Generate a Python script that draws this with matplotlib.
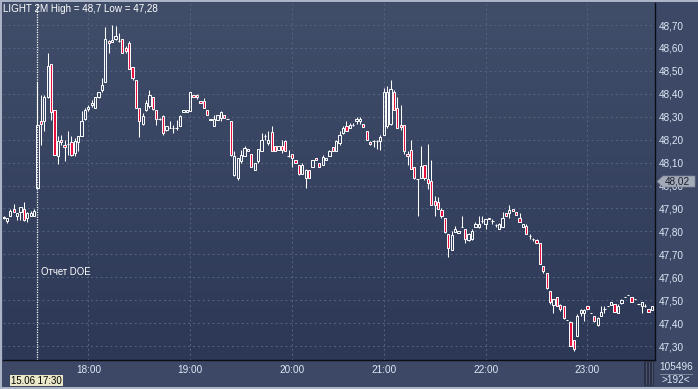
import matplotlib.pyplot as plt
import matplotlib.patches as mpatches
from matplotlib.collections import LineCollection
from matplotlib.colors import LinearSegmentedColormap
import numpy as np

# 2-minute candles, LIGHT (Brent-light), 17:10 .. 23:32
opens = [47.857, 47.845, 47.867, 47.896, 47.867, 47.886, 47.896, 47.857, 47.867, 47.867,
         47.988,
         48.280, 48.280, 48.386, 48.530, 48.328, 48.128, 48.197, 48.178, 48.183, 48.188,
         48.142, 48.188, 48.215, 48.290, 48.333, 48.352, 48.338, 48.386, 48.417, 48.451,
         48.630, 48.628, 48.638, 48.632, 48.638, 48.599, 48.620, 48.519, 48.458, 48.338,
         48.268, 48.328, 48.348, 48.388, 48.330, 48.290, 48.304, 48.241, 48.251, 48.251,
         48.251, 48.258, 48.322, 48.322, 48.323, 48.396, 48.396, 48.370, 48.370, 48.330,
         48.290,
         48.258, 48.284, 48.294, 48.309, 48.291, 48.283, 48.048, 48.033, 48.106, 48.128,
         48.152, 48.138, 48.067, 48.109, 48.149, 48.215, 48.186, 48.233, 48.171, 48.157,
         48.171, 48.193, 48.128, 48.139, 48.110, 48.091, 48.052, 48.031, 48.067, 48.081,
         48.120, 48.099, 48.091, 48.110, 48.128, 48.168, 48.152, 48.186, 48.229, 48.258,
         48.251, 48.265, 48.280, 48.280, 48.268, 48.239, 48.190, 48.193, 48.193, 48.193,
         48.222, 48.258, 48.268, 48.407, 48.338, 48.262, 48.262,
         48.139, 48.154, 48.081, 48.029, 48.033, 48.091, 48.029, 48.019,
         47.932, 47.929, 47.893, 47.859, 47.790, 47.719, 47.797, 47.791, 47.820, 47.809,
         47.762, 47.765, 47.820, 47.820, 47.845, 47.830, 47.859, 47.845, 47.826, 47.812,
         47.820, 47.881, 47.881, 47.899, 47.884, 47.859, 47.820, 47.823, 47.780, 47.768,
         47.762, 47.751, 47.649, 47.617, 47.541, 47.478, 47.512, 47.478, 47.473, 47.413,
         47.403, 47.328, 47.342, 47.446, 47.446, 47.473, 47.442, 47.429, 47.391, 47.429,
         47.461, 47.475, 47.478, 47.483, 47.444, 47.487, 47.515, 47.522, 47.512, 47.504,
         47.483, 47.473, 47.475, 47.461, 47.458]
highs = [47.866, 47.858, 47.896, 47.919, 47.879, 47.908, 47.929, 47.886, 47.890, 47.896,
         48.453,
         48.396, 48.396, 48.577, 48.530, 48.330, 48.215, 48.222, 48.200, 48.236, 48.215,
         48.207, 48.215, 48.323, 48.338, 48.352, 48.371, 48.386, 48.410, 48.468, 48.693,
         48.635, 48.700, 48.696, 48.664, 48.638, 48.609, 48.632, 48.519, 48.458, 48.338,
         48.316, 48.374, 48.417, 48.388, 48.330, 48.295, 48.309, 48.261, 48.283, 48.265,
         48.287, 48.309, 48.330, 48.330, 48.410, 48.396, 48.400, 48.370, 48.381, 48.330,
         48.290,
         48.309, 48.309, 48.323, 48.309, 48.291, 48.283, 48.149, 48.120, 48.157, 48.171,
         48.161, 48.138, 48.099, 48.161, 48.229, 48.225, 48.236, 48.258, 48.171, 48.171,
         48.200, 48.200, 48.157, 48.139, 48.110, 48.091, 48.099, 48.070, 48.067, 48.113,
         48.120, 48.099, 48.135, 48.120, 48.157, 48.168, 48.200, 48.236, 48.258, 48.280,
         48.272, 48.272, 48.297, 48.297, 48.268, 48.239, 48.193, 48.200, 48.200, 48.222,
         48.425, 48.432, 48.461, 48.417, 48.388, 48.352, 48.262,
         48.152, 48.200, 48.081, 48.030, 48.171, 48.091, 48.183, 48.113,
         47.954, 47.951, 47.903, 47.859, 47.790, 47.801, 47.823, 47.801, 47.867, 47.809,
         47.794, 47.812, 47.841, 47.867, 47.867, 47.852, 47.859, 47.852, 47.830, 47.838,
         47.884, 47.881, 47.913, 47.899, 47.884, 47.878, 47.830, 47.830, 47.787, 47.772,
         47.765, 47.751, 47.649, 47.617, 47.541, 47.504, 47.512, 47.483, 47.473, 47.413,
         47.410, 47.328, 47.439, 47.461, 47.461, 47.473, 47.442, 47.432, 47.425, 47.475,
         47.475, 47.475, 47.490, 47.483, 47.483, 47.504, 47.515, 47.522, 47.512, 47.504,
         47.483, 47.490, 47.483, 47.461, 47.473]
lows = [47.853, 47.838, 47.867, 47.886, 47.850, 47.850, 47.847, 47.842, 47.867, 47.867,
        47.988,
        48.178, 48.236, 48.380, 48.287, 48.135, 48.096, 48.178, 48.106, 48.135, 48.128,
        48.128, 48.149, 48.215, 48.287, 48.323, 48.342, 48.338, 48.381, 48.410, 48.450,
        48.577, 48.628, 48.635, 48.628, 48.577, 48.580, 48.507, 48.461, 48.338, 48.212,
        48.265, 48.323, 48.338, 48.330, 48.265, 48.285, 48.222, 48.236, 48.251, 48.229,
        48.244, 48.258, 48.322, 48.322, 48.323, 48.388, 48.377, 48.362, 48.338, 48.309,
        48.284,
        48.258, 48.284, 48.280, 48.294, 48.291, 48.128, 48.041, 48.026, 48.099, 48.128,
        48.152, 48.080, 48.067, 48.099, 48.149, 48.200, 48.178, 48.152, 48.149, 48.157,
        48.142, 48.149, 48.123, 48.080, 48.099, 48.048, 48.052, 47.990, 48.031, 48.081,
        48.113, 48.081, 48.091, 48.110, 48.128, 48.152, 48.152, 48.178, 48.225, 48.236,
        48.251, 48.258, 48.268, 48.268, 48.254, 48.200, 48.178, 48.167, 48.161, 48.157,
        48.222, 48.251, 48.265, 48.330, 48.251, 48.243, 48.138,
        48.091, 48.070, 48.029, 47.867, 48.033, 48.026, 47.983, 47.913,
        47.867, 47.899, 47.859, 47.791, 47.690, 47.719, 47.797, 47.791, 47.820, 47.751,
        47.758, 47.762, 47.820, 47.816, 47.838, 47.812, 47.852, 47.830, 47.820, 47.809,
        47.820, 47.867, 47.859, 47.891, 47.870, 47.841, 47.820, 47.790, 47.765, 47.758,
        47.751, 47.659, 47.620, 47.548, 47.483, 47.444, 47.475, 47.454, 47.417, 47.413,
        47.302, 47.280, 47.342, 47.432, 47.410, 47.461, 47.442, 47.403, 47.387, 47.429,
        47.444, 47.475, 47.478, 47.449, 47.444, 47.483, 47.515, 47.522, 47.490, 47.504,
        47.483, 47.444, 47.468, 47.449, 47.458]
closes = [47.863, 47.857, 47.889, 47.886, 47.879, 47.908, 47.850, 47.879, 47.882, 47.890,
          48.264,
          48.268, 48.386, 48.522, 48.319, 48.135, 48.193, 48.188, 48.168, 48.183, 48.135,
          48.193, 48.215, 48.280, 48.330, 48.342, 48.360, 48.386, 48.406, 48.439, 48.638,
          48.620, 48.635, 48.652, 48.632, 48.577, 48.588, 48.507, 48.468, 48.338, 48.280,
          48.304, 48.360, 48.396, 48.333, 48.290, 48.290, 48.229, 48.261, 48.251, 48.251,
          48.251, 48.301, 48.330, 48.330, 48.406, 48.388, 48.388, 48.362, 48.338, 48.309,
          48.284,
          48.291, 48.309, 48.320, 48.294, 48.291, 48.135, 48.130, 48.120, 48.135, 48.164,
          48.161, 48.080, 48.099, 48.161, 48.200, 48.215, 48.200, 48.152, 48.149, 48.171,
          48.157, 48.152, 48.128, 48.120, 48.099, 48.052, 48.088, 48.067, 48.031, 48.113,
          48.113, 48.081, 48.123, 48.120, 48.152, 48.152, 48.193, 48.222, 48.251, 48.239,
          48.265, 48.265, 48.291, 48.291, 48.254, 48.200, 48.181, 48.193, 48.193, 48.210,
          48.407, 48.410, 48.422, 48.330, 48.251, 48.254, 48.149,
          48.128, 48.072, 48.033, 48.029, 48.084, 48.033, 48.012, 47.917,
          47.917, 47.899, 47.867, 47.797, 47.729, 47.783, 47.812, 47.801, 47.820, 47.765,
          47.787, 47.801, 47.830, 47.830, 47.845, 47.852, 47.852, 47.845, 47.826, 47.830,
          47.859, 47.867, 47.893, 47.891, 47.870, 47.841, 47.830, 47.790, 47.780, 47.768,
          47.751, 47.659, 47.628, 47.551, 47.490, 47.504, 47.475, 47.461, 47.420, 47.413,
          47.302, 47.287, 47.429, 47.458, 47.458, 47.461, 47.442, 47.410, 47.420, 47.449,
          47.461, 47.475, 47.490, 47.449, 47.475, 47.501, 47.515, 47.522, 47.490, 47.504,
          47.483, 47.490, 47.475, 47.449, 47.473]

time_ticks = [25, 55, 85, 112, 142, 172]
time_labels = ["18:00", "19:00", "20:00", "21:00", "22:00", "23:00"]
price_ticks = [47.30, 47.40, 47.50, 47.60, 47.70, 47.80, 47.90, 48.00,
               48.10, 48.20, 48.30, 48.40, 48.50, 48.60, 48.70]
price_labels = ["47,30", "47,40", "47,50", "47,60", "47,70", "47,80", "47,90", "48,00",
                "48,10", "48,20", "48,30", "48,40", "48,50", "48,60", "48,70"]
doe_index = 10
last_price = 48.02

W, H = 698, 389
FONT = "Liberation Sans"
TXT = "#dfe7f5"
RED = "#e8103f"


def box(x0, y0, x1, y1):
    # pixel box (top-left origin) -> figure fraction rect
    return [x0 / W, 1 - y1 / H, (x1 - x0) / W, (y1 - y0) / H]


def main():
    fig = plt.figure(figsize=(W / 100, H / 100), dpi=100)
    fig.patch.set_facecolor("#3c4865")

    ax = fig.add_axes(box(3, 3, 655, 360))
    x0, step = 3.5, 3.395
    ax.set_xlim((3 - x0) / step, (655 - x0) / step)
    ax.set_ylim(47.239, 48.796)

    # background gradient
    bg = LinearSegmentedColormap.from_list("bg", ["#2c3856", "#414e6a"])
    ax.imshow(np.linspace(0, 1, 256).reshape(-1, 1), cmap=bg, origin="lower",
              extent=[0, 1, 0, 1], transform=ax.transAxes, aspect="auto", zorder=0)

    ax.set_xticks(time_ticks, time_labels)
    ax.set_yticks(price_ticks, price_labels)
    ax.yaxis.tick_right()
    ax.grid(True, color="#56647f", linestyle=(0, (2, 3)), linewidth=0.7)
    ax.tick_params(axis="both", length=0, labelsize=7.2, labelcolor=TXT)
    ax.tick_params(axis="x", pad=3.5)
    ax.tick_params(axis="y", pad=2.5)
    for lab in ax.get_xticklabels() + ax.get_yticklabels():
        lab.set_fontfamily(FONT)
    for side in ["top", "left"]:
        ax.spines[side].set_visible(False)
    for side in ["right", "bottom"]:
        ax.spines[side].set_color("#0b0d14")
        ax.spines[side].set_linewidth(1.0)

    # DOE report marker
    ax.axvline(doe_index, color="white", linewidth=0.9, linestyle=(0, (1, 1)), zorder=2)

    # candles
    wicks = []
    for i, (o, h, l, c) in enumerate(zip(opens, highs, lows, closes)):
        top, bot = max(o, c), min(o, c)
        if h > top:
            wicks.append([(i, top), (i, h)])
        if l < bot:
            wicks.append([(i, l), (i, bot)])
        if abs(c - o) < 0.002:
            wicks.append([(i - 0.36, o), (i + 0.36, o)])
        else:
            face = RED if c < o else "none"
            ax.add_patch(mpatches.Rectangle((i - 0.33, bot), 0.66, top - bot,
                                            facecolor=face, edgecolor="white",
                                            linewidth=0.7, zorder=3))
    ax.add_collection(LineCollection(wicks, colors="white", linewidths=0.75, zorder=2.5))

    fig.text(3 / W, 1 - 8.5 / H, "LIGHT 2M High = 48,7 Low = 47,28", color="white",
             fontsize=7.1, family=FONT, va="center", ha="left")
    fig.text(41 / W, 1 - 272 / H, "Отчет DOE", color="white",
             fontsize=6.9, family=FONT, va="center", ha="left")

    # last price flag on the price axis (covers the 48,00 label as in the terminal)
    flag = mpatches.Polygon([(657 / W, 1 - 181.5 / H), (663 / W, 1 - 176 / H),
                             (695 / W, 1 - 176 / H), (695 / W, 1 - 187 / H),
                             (663 / W, 1 - 187 / H)], closed=True,
                            transform=fig.transFigure, facecolor="#a4abb8",
                            edgecolor="#7c8494", linewidth=0.5, zorder=10)
    fig.patches.append(flag)
    fig.text(677 / W, 1 - 181.5 / H, "48,02", color="#161c2a", fontsize=7.2,
             family=FONT, va="center", ha="center", zorder=11)

    # date box bottom-left
    fig.patches.append(mpatches.Rectangle((10 / W, 1 - 386 / H), 53 / W, 11 / H,
                                          transform=fig.transFigure, facecolor="#ebe7c9",
                                          edgecolor="none", zorder=10))
    fig.text(36.5 / W, 1 - 380.5 / H, "15.06 17:30", color="black", fontsize=6.9,
             family=FONT, va="center", ha="center", zorder=11)

    # scroll stub and counters bottom-right
    fig.patches.append(mpatches.Rectangle((644 / W, 1 - 386 / H), 10 / W, 25 / H,
                                          transform=fig.transFigure, facecolor="#2a3046",
                                          edgecolor="none", zorder=10))
    for xs in [646, 649, 652]:
        fig.patches.append(mpatches.Rectangle((xs / W, 1 - 385 / H), 1 / W, 23 / H,
                                              transform=fig.transFigure,
                                              facecolor="#4b536a", edgecolor="none", zorder=11))
    fig.text(676 / W, 1 - 367.5 / H, "105496", color=TXT, fontsize=7.2, family=FONT,
             va="center", ha="center")
    fig.text(676 / W, 1 - 380 / H, ">192<", color=TXT, fontsize=7.2, family=FONT,
             va="center", ha="center")
    fig.patches.append(mpatches.Rectangle((660 / W, 1 - 374.5 / H), 33 / W, 1 / H,
                                          transform=fig.transFigure, facecolor="#7d879b",
                                          edgecolor="none", zorder=10))

    # light outer frame
    for r in [(0, 0, 698, 2), (0, 387, 698, 389), (0, 0, 1.5, 389)]:
        fig.patches.append(mpatches.Rectangle((r[0] / W, 1 - r[3] / H),
                                              (r[2] - r[0]) / W, (r[3] - r[1]) / H,
                                              transform=fig.transFigure,
                                              facecolor="#aab4c6", edgecolor="none",
                                              zorder=12))

    fig.savefig("out.png", dpi=100)


if __name__ == "__main__":
    main()
